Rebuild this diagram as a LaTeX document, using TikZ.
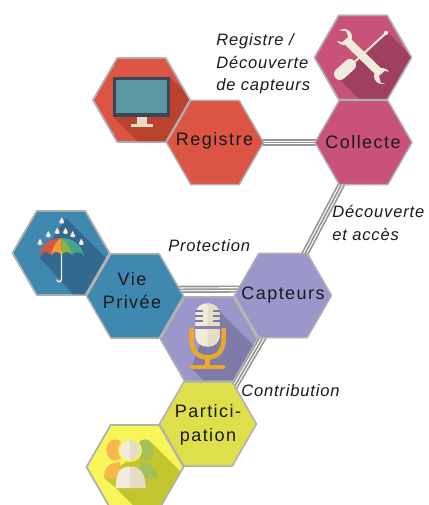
\documentclass[tikz,border=0pt]{standalone}
\usepackage{fontspec}
\setmainfont{Liberation Sans}
\newfontfamily\hexfont[LetterSpace=8]{Liberation Sans}
\newfontfamily\labfont[LetterSpace=5,ItalicFont={Liberation Sans Italic}]{Liberation Sans}
\usetikzlibrary{shapes.geometric,backgrounds}
\definecolor{edgegray}{HTML}{B0B0B0}
\definecolor{linkgray}{HTML}{949494}
\definecolor{redhex}{HTML}{DC5444}
\definecolor{redsh}{HTML}{BA422E}
\definecolor{pinkhex}{HTML}{C9527A}
\definecolor{pinksh}{HTML}{A04060}
\definecolor{bluehex}{HTML}{3F88AF}
\definecolor{bluesh}{HTML}{33698F}
\definecolor{purphex}{HTML}{9C97CB}
\definecolor{purpsh}{HTML}{7F7BA8}
\definecolor{greenhex}{HTML}{DDE04A}
\definecolor{yelhex}{HTML}{F7F557}
\definecolor{yelsh}{HTML}{C3C52E}
\definecolor{cream}{HTML}{F1EBDC}
\definecolor{creamd}{HTML}{E6DDC6}
\definecolor{screen}{HTML}{5B96A3}
\definecolor{bezel}{HTML}{3A4654}
\definecolor{micor}{HTML}{EBA92B}
\definecolor{umbred}{HTML}{D9563F}
\definecolor{umbor}{HTML}{EE9B36}
\definecolor{umbol}{HTML}{8FAE4F}
\definecolor{umbte}{HTML}{3FA78F}
\definecolor{pplor}{HTML}{F8B84E}
\definecolor{pplgr}{HTML}{A5C05A}
\newcommand{\cliphex}[1]{\clip (#1.corner 1) -- (#1.corner 2) -- (#1.corner 3) -- (#1.corner 4) -- (#1.corner 5) -- (#1.corner 6) -- cycle;}
\newcommand{\borderhex}[1]{\draw[edgegray,line width=1.1pt,line join=round] (#1.corner 1) -- (#1.corner 2) -- (#1.corner 3) -- (#1.corner 4) -- (#1.corner 5) -- (#1.corner 6) -- cycle;}
\newcommand{\raindrop}[2]{\fill[cream,shift={(#1,#2)}] (0,-3.6) .. controls (.5,-1.8) and (2.4,-.8) .. (2.4,1) .. controls (2.4,3.3) and (-2.4,3.3) .. (-2.4,1) .. controls (-2.4,-.8) and (-.5,-1.8) .. (0,-3.6) -- cycle;}
\tikzset{
  hexa/.style={regular polygon,regular polygon sides=6,minimum size=72.8pt,inner sep=0pt,outer sep=0pt,draw=edgegray,line width=1.1pt,line join=round},
  hexlabel/.style={inner sep=0pt,align=center,text=black!90,font=\hexfont\fontsize{13.5}{17.8}\selectfont},
  tagtext/.style={anchor=west,align=left,inner sep=0pt,text=black!90,font=\labfont\itshape\fontsize{12.4}{16.9}\selectfont},
  linkline/.style={draw=linkgray,line width=5.4pt,postaction={draw=white,line width=2.9pt,postaction={draw=linkgray,line width=1.2pt}}}
}
\begin{document}
\begin{tikzpicture}[x=0.75pt,y=-0.75pt]
\useasboundingbox (0,0) rectangle (428,505);

% icon hexagons
\node[hexa,fill=redhex] (mon) at (141.5,100) {};
\node[hexa,fill=pinkhex] (tools) at (363,57.5) {};
\node[hexa,fill=bluehex] (umb) at (61,253) {};
\node[hexa,fill=yelhex] (ppl) at (135,467) {};

% monitor
\begin{scope}
\cliphex{mon}
\fill[redsh] (170,77) -- (253,160) -- (156,160) -- (113,117) -- cycle;
\end{scope}
\fill[creamd] (137,116) rectangle (147,124);
\fill[creamd] (131,124) rectangle (153,127);
\fill[bezel] (112.7,76.7) rectangle (170,116.7);
\fill[screen] (116,80) rectangle (166.7,113.4);
\borderhex{mon}

% tools
\begin{scope}
\cliphex{tools}
\fill[pinksh] (387,32) -- (460,105) -- (365,105) -- (335,75) -- cycle;
\end{scope}
\draw[cream,line width=6.2pt] (345,39) -- (381,74);
\fill[cream] (344,37) circle[radius=6pt];
\fill[cream] (382,76) circle[radius=6pt];
\fill[pinkhex] (335,30) -- (346,31) -- (348,37) -- (342,42) -- (333,40) -- cycle;
\fill[pinksh] (392,84) -- (381,83) -- (379,76) -- (385,71) -- (394,73) -- cycle;
\draw[cream,line width=1.5pt] (385,34) -- (350,66);
\fill[cream] (386,33) circle[radius=1.6pt];
\draw[cream,line width=9pt,line cap=round] (350,65) -- (340,74);
\borderhex{tools}

% umbrella
\begin{scope}
\cliphex{umb}
\fill[bluesh] (66,218) -- (150,302) -- (80,302) -- (40,258) -- cycle;
\end{scope}
\raindrop{61.7}{221}
\raindrop{48.3}{234.7}
\raindrop{57.3}{231.3}
\raindrop{65.5}{231.3}
\raindrop{72.7}{234.7}
\raindrop{40}{242.3}
\raindrop{81.3}{242.3}
\draw[cream,line width=1.1pt,line cap=round] (61.5,250) -- (61.5,279) .. controls (61.5,282.5) and (57.5,282.5) .. (57,280);
\fill[umbred] (61.5,238) .. controls (50,238) and (41,245) .. (39.5,256) .. controls (42,251) and (48,251) .. (51.2,255) .. controls (52,247) and (56,241) .. (61.5,238) -- cycle;
\fill[umbor] (61.5,238) .. controls (56,241) and (52,247) .. (51.2,255) .. controls (54,251) and (58.5,251) .. (61.5,255) -- cycle;
\fill[umbol] (61.5,238) -- (61.5,255) .. controls (64,251) and (69,251) .. (72,255) .. controls (71,247) and (67,241) .. (61.5,238) -- cycle;
\fill[umbte] (61.5,238) .. controls (67,241) and (71,247) .. (72,255) .. controls (75,251) and (81,251) .. (84,256) .. controls (82,245) and (73,238) .. (61.5,238) -- cycle;
\borderhex{umb}

% people
\begin{scope}
\cliphex{ppl}
\fill[yelsh] (152,443) -- (230,521) -- (149,521) -- (116,488) -- (104,478) -- cycle;
\end{scope}
\fill[pplor] (115,450) ellipse[x radius=6.5pt,y radius=8pt];
\fill[pplor] (104,478) .. controls (104,468) and (108,463) .. (120,462) -- (122,478) -- cycle;
\fill[pplgr] (145,450) ellipse[x radius=6.5pt,y radius=8pt];
\fill[pplgr] (157,478) .. controls (157,468) and (153,463) .. (141,462) -- (138,478) -- cycle;
\fill[yelhex] (130,450.3) ellipse[x radius=9pt,y radius=8.8pt];
\fill[cream] (130,450.3) ellipse[x radius=7.6pt,y radius=7.4pt];
\fill[cream] (115.7,488) .. controls (116,472) and (120,466.5) .. (130,466.5) -- (130,488) -- cycle;
\fill[creamd] (130,466.5) .. controls (140,466.5) and (145,472) .. (145.7,488) -- (130,488) -- cycle;
\begin{scope}
\clip (130,440) rectangle (142,461);
\fill[creamd] (130,450.3) ellipse[x radius=7.6pt,y radius=7.4pt];
\end{scope}
\borderhex{ppl}

% main hexagons
\node[hexa,fill=redhex] (reg) at (215,142.5) {};
\node[hexa,fill=pinkhex] (col) at (363.5,142.5) {};
\node[hexa,fill=bluehex] (vie) at (135,296) {};
\node[hexa,fill=purphex] (mic) at (209,339) {};
\begin{scope}
\cliphex{mic}
\fill[purpsh] (215,307) -- (300,392) -- (215,392) -- (191,368) -- cycle;
\end{scope}
\draw[micor,line width=3.4pt] (191.5,328) -- (191.5,339) .. controls (191.5,352) and (199,357.5) .. (207.5,357.5) .. controls (216,357.5) and (223.7,352) .. (223.7,339) -- (223.7,328);
\draw[micor,line width=3.4pt] (207.5,357) -- (207.5,367);
\draw[micor,line width=3.4pt,line cap=round] (192,367) -- (223,367);
\fill[cream] (195.3,315) .. controls (195.3,307) and (201,303.3) .. (207.5,303.3) .. controls (214,303.3) and (219.7,307) .. (219.7,315) -- (219.7,335) .. controls (219.7,343) and (214,346.7) .. (207.5,346.7) .. controls (201,346.7) and (195.3,343) .. (195.3,335) -- cycle;
\fill[creamd] (207.5,303.3) .. controls (214,303.3) and (219.7,307) .. (219.7,315) -- (219.7,335) .. controls (219.7,343) and (214,346.7) .. (207.5,346.7) -- cycle;
\fill[purpsh!70!purphex] (195.3,326) rectangle (219.7,329);
\foreach \yy in {311,316,321}{
  \draw[purpsh,line width=1.1pt] (195.3,\yy) -- (202.5,\yy);
  \draw[purpsh,line width=1.1pt] (212.5,\yy) -- (219.7,\yy);
}
\borderhex{mic}
\node[hexa,fill=purphex] (cap) at (283,295.5) {};
\node[hexa,fill=greenhex] (par) at (208,424) {};

% hexagon texts
\node[hexlabel] (regt) at (214.5,141) {Registre};
\node[hexlabel] (colt) at (363,142.5) {Collecte};
\node[hexlabel] (viet) at (132,290.5) {Vie\\Privée};
\node[hexlabel] (capt) at (283,295) {Capteurs};
\node[hexlabel] (part) at (208,425) {Partici-\\pation};

% connectors
\begin{scope}[on background layer]
\draw[linkline] (reg.center) -- (col.center);
\draw[linkline] (col.center) -- (cap.center);
\draw[linkline] ([yshift=4.9pt]vie.center) -- ([yshift=4.9pt]cap.center);
\draw[linkline] ([xshift=3.4pt]cap.center) -- ([xshift=3.4pt]par.center);
\end{scope}

% labels
\node[tagtext] (t1) at (216,64) {Registre /\\Découverte\\de capteurs};
\node[tagtext] (t2) at (332,223) {Découverte\\et accès};
\node[tagtext] (t3) at (168,246) {Protection};
\node[tagtext] (t4) at (241,391) {Contribution};
\end{tikzpicture}
\end{document}
